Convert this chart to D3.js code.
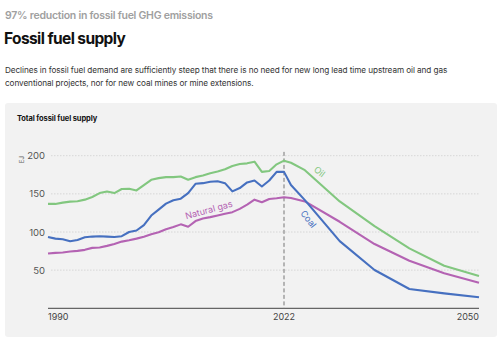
<!DOCTYPE html>
<html lang="en">
<head>
<meta charset="utf-8">
<title>Fossil fuel supply</title>
<script src="https://cdn.jsdelivr.net/npm/d3@7"></script>
<style>
  body { margin: 0; background: #fff; }
  svg text { font-family: Inter, "Open Sans", sans-serif; }
</style>
</head>
<body>
<script>
// data (EJ)
var years = [1990, 1991, 1992, 1993, 1994, 1995, 1996, 1997, 1998, 1999,
             2000, 2001, 2002, 2003, 2004, 2005, 2006, 2007, 2008, 2009,
             2010, 2011, 2012, 2013, 2014, 2015, 2016, 2017, 2018, 2019,
             2020, 2021, 2022, 2023, 2025, 2030, 2035, 2040, 2045, 2050];
var oil = [136.8, 136.8, 138.5, 139.8, 140.3, 142.4, 145.9, 151, 153.2, 151,
           156.3, 156.7, 154.5, 161.5, 168.4, 170.6, 171.9, 171.9, 172.7, 168.4,
           171.9, 174, 177, 179.2, 182.2, 186.6, 189.2, 190, 192.2, 178.8,
           180, 188.7, 193.5, 190.7, 181, 140, 107.8, 78.6, 55.8, 42.3];
var coal = [93.5, 91.3, 90.5, 87.9, 89.6, 93.1, 94, 94.4, 94, 93.5,
            94.5, 100, 102, 109.1, 121.6, 129.4, 137.2, 141.6, 143.7, 151,
            163.2, 164, 165.8, 166.6, 164, 153.2, 157.6, 165, 167.5, 159.7,
            167.5, 178.8, 178.8, 161.5, 141.8, 88, 50.2, 25.3, 19.6, 14.4];
var gas = [71.9, 72.7, 73.2, 74.5, 75.3, 76.6, 79.2, 79.6, 81.8, 84.4,
           87.4, 89.1, 91.3, 93.9, 97, 99.6, 103.5, 106.5, 110, 106.9,
           114.3, 117.7, 119.5, 121.6, 123.8, 126, 130.3, 135.9, 142.4, 139,
           143.3, 144.2, 145.5, 144.5, 140.1, 113.4, 84.2, 62.4, 45.8, 33.5];
var seriesNames = ["Oil", "Natural gas", "Coal"];
var yTicks = [50, 100, 150, 200];
var xTicks = [1990, 2022, 2050];
var baseYear = 2022;

var w = 500, h = 353;
var colors = { "Oil": "#82c77f", "Natural gas": "#b463b3", "Coal": "#4670c0" };

var svg = d3.select("body").append("svg")
    .attr("width", w)
    .attr("height", h);

// headings
svg.append("text").attr("x", 5).attr("y", 19)
    .attr("font-size", 10.5).attr("font-weight", 600).attr("fill", "#a0a0a0")
    .attr("letter-spacing", -0.25)
    .text("97% reduction in fossil fuel GHG emissions");
svg.append("text").attr("x", 4).attr("y", 44)
    .attr("font-size", 15.5).attr("font-weight", 700).attr("fill", "#111")
    .attr("letter-spacing", -0.6)
    .text("Fossil fuel supply");
svg.append("text").attr("x", 5).attr("y", 73)
    .attr("font-size", 8.2).attr("fill", "#333")
    .attr("letter-spacing", -0.08)
    .text("Declines in fossil fuel demand are sufficiently steep that there is no need for new long lead time upstream oil and gas");
svg.append("text").attr("x", 5).attr("y", 86)
    .attr("font-size", 8.2).attr("fill", "#333")
    .attr("letter-spacing", -0.08)
    .text("conventional projects, nor for new coal mines or mine extensions.");

// card
svg.append("rect").attr("x", 5).attr("y", 103).attr("width", 492).attr("height", 234)
    .attr("rx", 3).attr("fill", "#f2f2f2");
svg.append("text").attr("x", 17).attr("y", 121)
    .attr("font-size", 7.5).attr("font-weight", 700).attr("fill", "#111")
    .attr("letter-spacing", -0.1)
    .text("Total fossil fuel supply");

var x = d3.scaleLinear().domain([1990, 2022, 2050]).range([48, 284, 479]);
var y = d3.scaleLinear().domain([0, 200]).range([308.3, 155.7]);

// grid
svg.append("g").selectAll("line")
    .data(yTicks)
    .enter()
    .append("line")
    .attr("x1", 51).attr("x2", 479)
    .attr("y1", function(d) { return y(d); })
    .attr("y2", function(d) { return y(d); })
    .attr("stroke", "#cfcfcf")
    .attr("stroke-width", 0.8)
    .attr("stroke-dasharray", "1.5,1.5");

svg.append("g").selectAll("text")
    .data(yTicks)
    .enter()
    .append("text")
    .attr("x", 45)
    .attr("y", function(d) { return y(d) + 3.5; })
    .attr("text-anchor", "end")
    .attr("font-size", 9.5)
    .attr("fill", "#555")
    .text(function(d) { return d; });

svg.append("text")
    .attr("transform", "translate(24," + (y(200) + 4) + ") rotate(-90)")
    .attr("text-anchor", "middle")
    .attr("font-size", 6)
    .attr("fill", "#666")
    .text("EJ");

// x axis
svg.append("line")
    .attr("x1", x(1990)).attr("x2", x(2050))
    .attr("y1", y(0)).attr("y2", y(0))
    .attr("stroke", "#666").attr("stroke-width", 1.3);

svg.append("g").selectAll("text")
    .data(xTicks)
    .enter()
    .append("text")
    .attr("x", function(d) { return x(d); })
    .attr("y", 320)
    .attr("text-anchor", function(d, i) { return i == 0 ? "start" : (i == xTicks.length - 1 ? "end" : "middle"); })
    .attr("font-size", 9)
    .attr("fill", "#444")
    .text(function(d) { return d; });

// base year marker
svg.append("line")
    .attr("x1", x(baseYear)).attr("x2", x(baseYear))
    .attr("y1", y(205)).attr("y2", y(0))
    .attr("stroke", "#777").attr("stroke-width", 1)
    .attr("stroke-dasharray", "4,2.5");

// lines
var seriesData = { "Oil": oil, "Natural gas": gas, "Coal": coal };
var line = d3.line()
    .x(function(d) { return x(d[0]); })
    .y(function(d) { return y(d[1]); });

svg.append("g").selectAll("path")
    .data(seriesNames)
    .enter()
    .append("path")
    .attr("d", function(name) {
        return line(years.map(function(yr, i) { return [yr, seriesData[name][i]]; }));
    })
    .attr("fill", "none")
    .attr("stroke", function(name) { return colors[name]; })
    .attr("stroke-width", 2.1)
    .attr("stroke-linejoin", "round");

// inline labels
var labels = [
    { name: "Oil", yr: 2027.1, v: 179, angle: 38 },
    { name: "Natural gas", yr: 2011.8, v: 129, angle: -15 },
    { name: "Coal", yr: 2025.5, v: 117, angle: 52 }
];
svg.append("g").selectAll("text")
    .data(labels)
    .enter()
    .append("text")
    .attr("transform", function(d) {
        return "translate(" + x(d.yr) + "," + y(d.v) + ") rotate(" + d.angle + ")";
    })
    .attr("text-anchor", "middle")
    .attr("dy", "0.35em")
    .attr("font-size", 9)
    .attr("fill", function(d) { return colors[d.name]; })
    .text(function(d) { return d.name; });
</script>
</body>
</html>
